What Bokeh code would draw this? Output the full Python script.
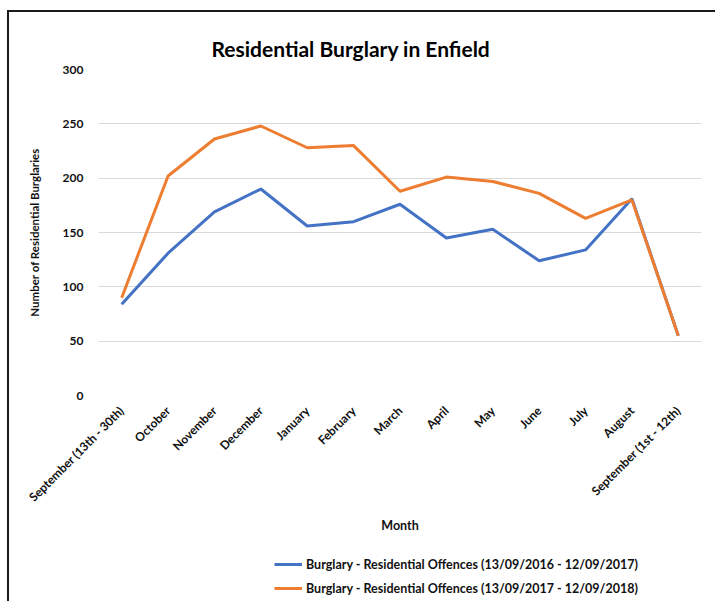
from math import pi
from bokeh.plotting import figure
from bokeh.layouts import column
from bokeh.models import Range1d, FactorRange, Legend, LegendItem
from bokeh.embed import file_html
from bokeh.resources import INLINE

months = ["September (13th - 30th)", "October", "November", "December", "January",
          "February", "March", "April", "May", "June", "July", "August",
          "September (1st - 12th)"]
series1_name = "Burglary - Residential Offences (13/09/2016 - 12/09/2017)"
series2_name = "Burglary - Residential Offences (13/09/2017 - 12/09/2018)"
series1 = [84, 131, 169, 190, 156, 160, 176, 145, 153, 124, 134, 181, 55]
series2 = [90, 202, 236, 248, 228, 230, 188, 201, 197, 186, 163, 180, 55]
y_ticks = [0, 50, 100, 150, 200, 250, 300]
chart_title = "Residential Burglary in Enfield"

FONT = "Lato"
TXT = "#111111"
C1, C2 = "#4472C4", "#ED7D31"

p = figure(width=715, height=541, x_range=FactorRange(*months), y_range=Range1d(0, 300),
           output_backend="svg", toolbar_location=None, title=chart_title,
           min_border_left=98, min_border_right=14, min_border_top=69, min_border_bottom=146)
p.styles = {"background": "linear-gradient(#1a1a1a,#1a1a1a) 7px 10px / 2px 100% no-repeat, "
                          "linear-gradient(#1a1a1a,#1a1a1a) 7px 10px / 100% 2px no-repeat, white"}
p.outline_line_color = None
p.background_fill_color = "white"
p.border_fill_alpha = 0

p.title.text_font = FONT
p.title.text_font_style = "bold"
p.title.text_font_size = "21px"
p.title.text_color = "#000000"
p.title.align = "left"
p.title.offset = 113
p.title.standoff = 18

p.line(months, series1, line_color=C1, line_width=3)
p.line(months, series2, line_color=C2, line_width=3)

p.yaxis.ticker = y_ticks
p.ygrid.grid_line_color = "#D9D9D9"
p.ygrid.grid_line_width = 1
p.xgrid.grid_line_color = None
for ax in (p.xaxis[0], p.yaxis[0]):
    ax.axis_line_color = None
    ax.major_tick_line_color = None
    ax.minor_tick_line_color = None
    ax.major_label_text_font = FONT
    ax.major_label_text_font_style = "bold"
    ax.major_label_text_font_size = "12px"
    ax.major_label_text_color = TXT
    ax.axis_label_text_font = FONT
    ax.axis_label_text_font_style = "bold"
    ax.axis_label_text_color = TXT

p.yaxis.major_label_standoff = 9
p.yaxis.axis_label = "Number of Residential Burglaries"
p.yaxis.axis_label_text_font_size = "11.5px"
p.yaxis.axis_label_standoff = 19

p.xaxis.major_label_orientation = pi / 4
p.xaxis.major_label_standoff = 7
p.xaxis.axis_label = "Month"
p.xaxis.axis_label_text_font_size = "12.5px"
p.xaxis.axis_label_standoff = 5

# legend strip below the chart (its lines lie outside its visible y range)
p2 = figure(width=715, height=60, x_range=FactorRange(*months), y_range=Range1d(1000, 1001),
            output_backend="svg", toolbar_location=None, min_border=0,
            x_axis_location=None, y_axis_location=None)
p2.styles = {"background": "linear-gradient(#1a1a1a,#1a1a1a) 7px 0px / 2px 100% no-repeat, white"}
p2.outline_line_color = None
p2.background_fill_alpha = 0
p2.border_fill_alpha = 0
p2.grid.grid_line_color = None
k1 = p2.line(months, series1, line_color=C1, line_width=3)
k2 = p2.line(months, series2, line_color=C2, line_width=3)

legend = Legend(items=[LegendItem(label=series1_name, renderers=[k1]),
                       LegendItem(label=series2_name, renderers=[k2])],
                location=(176, 3), orientation="vertical")
legend.border_line_color = None
legend.background_fill_alpha = 0
legend.label_text_font = FONT
legend.label_text_font_style = "bold"
legend.label_text_font_size = "12.5px"
legend.label_text_color = TXT
legend.glyph_width = 28
legend.glyph_height = 20
legend.label_height = 20
legend.label_standoff = 4
legend.spacing = 4
legend.padding = 4
legend.margin = 0
p2.add_layout(legend)

layout = column(p, p2, spacing=0)
open("out.html", "w").write(file_html(layout, INLINE))
